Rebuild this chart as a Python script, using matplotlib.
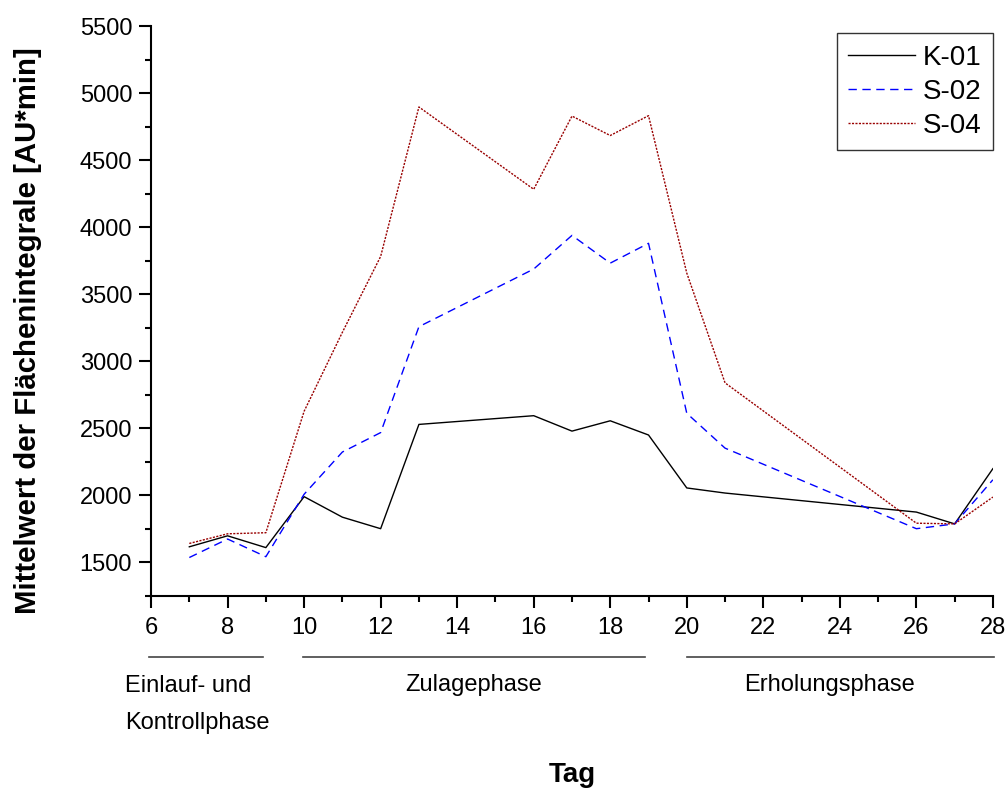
import matplotlib
matplotlib.use("Agg")
import matplotlib.pyplot as plt
from matplotlib.ticker import MultipleLocator

plt.rcParams['font.family'] = ['Liberation Sans', 'DejaVu Sans']

# Tage und Mittelwerte der Flächenintegrale
tage = [7, 8, 9, 10, 11, 12, 13, 16, 17, 18, 19, 20, 21, 26, 27, 28]
k01 = [1615, 1697, 1609, 1989, 1836, 1750, 2528, 2593, 2478, 2555, 2449, 2054, 2016, 1874, 1786, 2198]
s02 = [1535, 1673, 1541, 2007, 2322, 2467, 3257, 3687, 3938, 3731, 3879, 2611, 2351, 1750, 1786, 2115]
s04 = [1640, 1712, 1720, 2626, 3215, 3781, 4896, 4282, 4828, 4683, 4831, 3657, 2838, 1791, 1786, 1986]

# Phasen (Start, Ende)
phasen = ["Einlauf- und\nKontrollphase", "Zulagephase", "Erholungsphase"]
phasen_start = [5.95, 9.97, 20.0]
phasen_ende = [8.93, 18.92, 28.03]

fig = plt.figure(figsize=(10.07, 7.88), dpi=100)
ax = fig.add_axes([0.150, 0.244, 0.836, 0.723])

ax.plot(tage, k01, color='black', lw=1.0, label='K-01')
ax.plot(tage, s02, color='blue', lw=1.0, linestyle=(0, (6, 4)), label='S-02')
ax.plot(tage, s04, color='#990000', lw=1.0, linestyle=(0, (1.5, 1)), label='S-04')

ax.set_xlim(6, 28)
ax.set_ylim(1250, 5500)
ax.xaxis.set_major_locator(MultipleLocator(2))
ax.xaxis.set_minor_locator(MultipleLocator(1))
ax.yaxis.set_minor_locator(MultipleLocator(250))
ax.set_yticks([1500, 2000, 2500, 3000, 3500, 4000, 4500, 5000, 5500])

for s in ['top', 'right']:
    ax.spines[s].set_visible(False)
for s in ['left', 'bottom']:
    ax.spines[s].set_linewidth(1.5)

ax.tick_params(which='major', length=8.6, width=1.5, labelsize=17)
ax.tick_params(which='minor', length=4.5, width=1.5)
ax.tick_params(axis='y', which='major', pad=5)
ax.tick_params(axis='x', which='major', pad=7)

ax.set_ylabel('Mittelwert der Flächenintegrale [AU*min]', fontsize=21.2, fontweight='bold')
ax.yaxis.set_label_coords(-0.129, 0.466)

# Phasenlinien und -beschriftungen unter der Achse
tr = ax.get_xaxis_transform()
for a, b in zip(phasen_start, phasen_ende):
    ax.plot([a, b], [-0.108, -0.108], transform=tr, color='#444444', lw=1.2, clip_on=False)
ax.text(5.33, -0.140, phasen[0], transform=tr, ha='left', va='top', fontsize=17, linespacing=1.85)
ax.text(14.44, -0.157, phasen[1], transform=tr, ha='center', va='center', fontsize=17)
ax.text(23.74, -0.157, phasen[2], transform=tr, ha='center', va='center', fontsize=17)
ax.text(17.0, -0.315, 'Tag', transform=tr, ha='center', va='center', fontsize=20, fontweight='bold')

leg = ax.legend(loc='upper right', bbox_to_anchor=(1.0, 0.987), borderaxespad=0,
                fontsize=20, frameon=True, fancybox=False, edgecolor='black',
                handlelength=2.4, labelspacing=0.3, borderpad=0.4, handletextpad=0.3)
leg.get_frame().set_linewidth(1.0)

plt.savefig('out.png', dpi=100)
